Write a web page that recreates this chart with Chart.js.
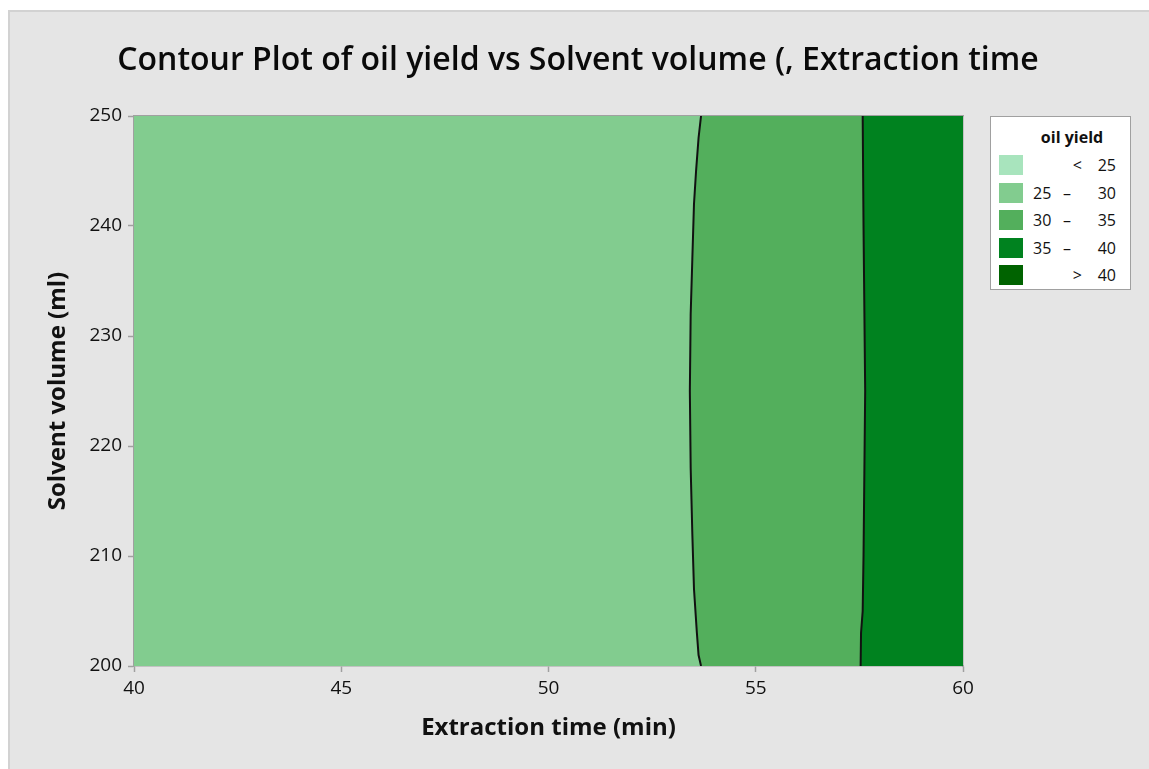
<!DOCTYPE html>
<html>
<head>
<meta charset="utf-8">
<script src="https://cdn.jsdelivr.net/npm/chart.js@4.4.1/dist/chart.umd.min.js"></script>
<style>
  html, body { margin: 0; padding: 0; background: #ffffff; width: 1149px; height: 769px; overflow: hidden; }
  #panel { position: absolute; left: 8px; top: 10px; width: 1141px; height: 759px; background: #e5e5e5;
           border-left: 2px solid #d2d2d2; border-top: 2px solid #d2d2d2; box-sizing: border-box; }
  #wrap { position: absolute; left: 0; top: 0; width: 1149px; height: 769px; }
  #legend { position: absolute; left: 990px; top: 116px; width: 141px; height: 174px; background: #ffffff;
            border: 1px solid #a0a0a0; box-sizing: border-box; font-family: 'Open Sans', 'Noto Sans', sans-serif; color: #111111; }
  #legend .t { position: absolute; left: 0; width: 100%; top: 9px; text-align: center; padding-left: 23px; box-sizing: border-box; font-weight: 700; font-size: 16px; }
  #legend .sw { position: absolute; left: 8px; width: 24px; height: 20px; }
  #legend .tx { position: absolute; font-size: 16px; line-height: 20px; white-space: nowrap; }
</style>
</head>
<body>
<div id="panel"></div>
<div id="wrap"><canvas id="c" width="1149" height="769"></canvas></div>
<div id="legend"></div>
<script>
// ---- data ----
const chartTitle = 'Contour Plot of oil yield vs Solvent volume (, Extraction time';
const xAxisTitle = 'Extraction time (min)';
const yAxisTitle = 'Solvent volume (ml)';
const xMin = 40, xMax = 60, xStep = 5;
const yMin = 200, yMax = 250, yStep = 10;

// contour line between 25-30 and 30-35 regions (x read at each y)
const contour30Y = [200, 201, 203, 207, 212, 218, 225, 232, 237, 242, 245, 248, 250];
const contour30X = [53.68, 53.62, 53.58, 53.51, 53.47, 53.43, 53.41, 53.43, 53.47, 53.51, 53.56, 53.62, 53.68];
// contour line between 30-35 and 35-40 regions
const contour35Y = [200, 203, 205, 210, 225, 240, 250];
const contour35X = [57.53, 57.54, 57.58, 57.60, 57.64, 57.60, 57.58];

const levelLow  = ['', '25', '30', '35', ''];
const levelSym  = ['<', '–', '–', '–', '>'];
const levelHigh = ['25', '30', '35', '40', '40'];
const levelColors = ['#a8e4bd', '#82cc8f', '#53af5c', '#00821f', '#006300'];

// ---- build ----
const toPts = (xs, ys) => ys.map((y, i) => ({ x: xs[i], y: y }));

Chart.defaults.font.family = "'Open Sans', 'Noto Sans', sans-serif";
Chart.defaults.color = '#111111';

const axisGray = '#a0a0a0';

new Chart(document.getElementById('c'), {
  type: 'line',
  data: {
    datasets: [
      { // region 25-30 : left edge to contour 30
        data: toPts(contour30X, contour30Y),
        indexAxis: 'y',
        borderColor: '#111111', borderWidth: 2,
        backgroundColor: levelColors[1],
        fill: { value: xMin },
        pointRadius: 0, tension: 0
      },
      { // region 30-35 : left edge to contour 35 (covered on left by region 25-30)
        data: toPts(contour35X, contour35Y),
        indexAxis: 'y',
        borderColor: '#111111', borderWidth: 2,
        backgroundColor: levelColors[2],
        fill: { value: xMin },
        pointRadius: 0, tension: 0
      },
      { // region 35-40 : contour 35 to right edge
        data: toPts(contour35X, contour35Y),
        indexAxis: 'y',
        borderWidth: 0, borderColor: 'rgba(0,0,0,0)',
        backgroundColor: levelColors[3],
        fill: { value: xMax },
        pointRadius: 0, tension: 0
      }
    ]
  },
  options: {
    responsive: false,
    animation: false,
    events: [],
    layout: { padding: { left: 7, right: 0, top: 0, bottom: 0 } },
    plugins: {
      legend: { display: false },
      tooltip: { enabled: false },
      title: {
        display: true, text: chartTitle, color: '#0a0a0a',
        font: { size: 32, weight: '600' },
        padding: { top: 42, bottom: 35.6 }
      }
    },
    scales: {
      x: {
        type: 'linear', position: 'bottom', min: xMin, max: xMax,
        afterFit: s => { s.height = 103; },
        ticks: { stepSize: xStep, font: { size: 19 }, color: '#111111', padding: 5, maxRotation: 0 },
        grid: { drawOnChartArea: false, drawTicks: true, tickLength: 6, color: axisGray, tickWidth: 1.5 },
        border: { display: true, color: axisGray, width: 1.5 },
        title: { display: true, text: xAxisTitle, font: { size: 24, weight: '700' }, color: '#111111', padding: { top: 0, bottom: 26 } }
      },
      y: {
        type: 'linear', position: 'left', min: yMin, max: yMax,
        afterFit: s => { s.width = 127; },
        ticks: { stepSize: yStep, font: { size: 19 }, color: '#111111', padding: 6 },
        grid: { drawOnChartArea: false, drawTicks: true, tickLength: 6, color: axisGray, tickWidth: 1.5 },
        border: { display: true, color: axisGray, width: 1.5 },
        title: { display: true, text: yAxisTitle, font: { size: 24, weight: '700' }, color: '#111111', padding: { top: 36.6, bottom: 0 } }
      },
      xTop: {
        type: 'linear', position: 'top', min: xMin, max: xMax,
        afterFit: s => { s.height = 0; },
        ticks: { display: false }, grid: { display: false, drawTicks: false },
        border: { display: true, color: axisGray, width: 1.5 }
      },
      yRight: {
        type: 'linear', position: 'right', min: yMin, max: yMax,
        afterFit: s => { s.width = 186; },
        ticks: { display: false }, grid: { display: false, drawTicks: false },
        border: { display: true, color: axisGray, width: 1.5 }
      }
    }
  }
});

// ---- legend (HTML) ----
const lg = document.getElementById('legend');
const t = document.createElement('div'); t.className = 't'; t.textContent = 'oil yield'; lg.appendChild(t);
levelColors.forEach((col, i) => {
  const top = Math.round(38 + i * 27.5);
  const sw = document.createElement('div'); sw.className = 'sw';
  sw.style.top = top + 'px'; sw.style.background = col; lg.appendChild(sw);
  if (levelLow[i]) {
    const a = document.createElement('span'); a.className = 'tx'; a.textContent = levelLow[i];
    a.style.left = '42px'; a.style.top = top + 'px'; lg.appendChild(a);
    const s = document.createElement('span'); s.className = 'tx'; s.textContent = levelSym[i];
    s.style.left = '72px'; s.style.top = top + 'px'; lg.appendChild(s);
  } else {
    const s = document.createElement('span'); s.className = 'tx'; s.textContent = levelSym[i];
    s.style.right = '48px'; s.style.top = top + 'px'; lg.appendChild(s);
  }
  const b = document.createElement('span'); b.className = 'tx'; b.textContent = levelHigh[i];
  b.style.right = '14px'; b.style.top = top + 'px'; lg.appendChild(b);
});
</script>
</body>
</html>
